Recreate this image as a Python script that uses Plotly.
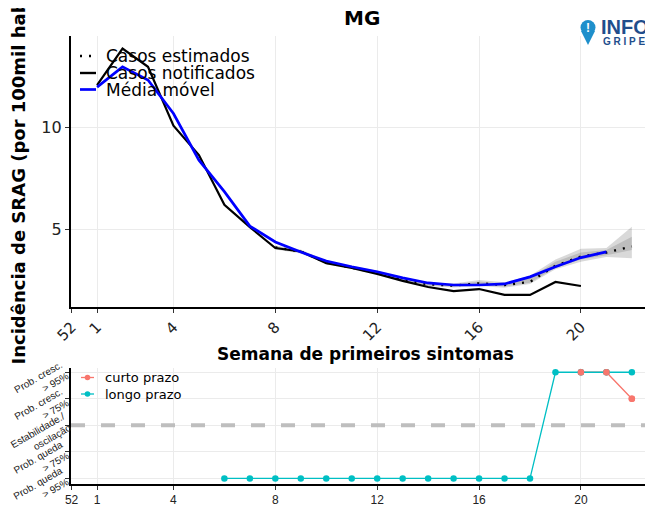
import plotly.graph_objects as go

# The page body has an 8px margin, so the figure is 8px smaller on each side
OFF = 8
W, H = 653 - OFF, 508 - OFF

# ---------------- data ----------------
tick_vals = [0, 1, 4, 8, 12, 16, 20]
tick_text = ["52", "1", "4", "8", "12", "16", "20"]

weeks_notified = [1, 2, 3, 4, 5, 6, 7, 8, 9, 10, 11, 12, 13, 14, 15, 16, 17, 18, 19, 20]
notified = [12.1, 13.9, 13.0, 10.1, 8.65, 6.2, 5.1, 4.07, 3.9, 3.33, 3.09, 2.8, 2.45, 2.15,
            1.95, 2.05, 1.76, 1.76, 2.4, 2.2]

weeks_mm = [1, 2, 3, 4, 5, 6, 7, 8, 9, 10, 11, 12, 13, 14, 15, 16, 17, 18, 19, 20, 21]
moving_avg = [12.0, 13.0, 12.35, 10.7, 8.4, 6.85, 5.15, 4.37, 3.87, 3.43, 3.15, 2.9, 2.6, 2.35,
              2.25, 2.25, 2.3, 2.65, 3.15, 3.6, 3.88]

weeks_est = [8, 9, 10, 11, 12, 13, 14, 15, 16, 17, 18, 19, 20, 21, 22]
estimated = [4.1, 3.9, 3.35, 3.1, 2.85, 2.5, 2.28, 2.22, 2.33, 2.25, 2.4, 3.2, 3.65, 3.85, 4.15]
ci95_lo = [4.0, 3.8, 3.3, 3.05, 2.8, 2.45, 2.2, 2.13, 2.2, 2.12, 2.3, 3.02, 3.4, 3.63, 3.57]
ci95_hi = [4.2, 4.0, 3.45, 3.2, 2.95, 2.6, 2.35, 2.32, 2.5, 2.38, 2.7, 3.5, 4.03, 4.07, 5.12]
ci50_lo = [4.05, 3.85, 3.32, 3.07, 2.82, 2.47, 2.23, 2.17, 2.27, 2.18, 2.36, 3.1, 3.5, 3.72, 3.98]
ci50_hi = [4.15, 3.95, 3.4, 3.15, 2.9, 2.55, 2.31, 2.27, 2.42, 2.3, 2.6, 3.4, 3.85, 3.97, 4.63]

weeks_longo = [6, 7, 8, 9, 10, 11, 12, 13, 14, 15, 16, 17, 18, 19, 20, 21, 22]
longo = [-2, -2, -2, -2, -2, -2, -2, -2, -2, -2, -2, -2, -2, 2, 2, 2, 2]
weeks_curto = [20, 21, 22]
curto = [2, 2, 1]

trend_vals = [-2, -1, 0, 1, 2]
trend_text = ["Prob. queda<br>> 95%", "Prob. queda<br>> 75%", "Estabilidade./<br>oscilação",
              "Prob. cresc.<br>> 75%", "Prob. cresc.<br>> 95%"]

# ---------------- helpers (screen px -> paper) ----------------
def X(px):
    return (px - OFF) / W

def Y(py):
    return 1 - (py - OFF) / H

FONT = "DejaVu Sans"
ARIAL = "Liberation Sans"
BLUE = "#0000FF"
C_CURTO = "#F8766D"
C_LONGO = "#00BFC4"

fig = go.Figure()

# CI bands
fig.add_trace(go.Scatter(x=weeks_est, y=ci95_hi, mode="lines", line=dict(width=0),
                         hoverinfo="skip", showlegend=False, xaxis="x", yaxis="y"))
fig.add_trace(go.Scatter(x=weeks_est, y=ci95_lo, mode="lines", line=dict(width=0),
                         fill="tonexty", fillcolor="rgba(0,0,0,0.15)",
                         hoverinfo="skip", showlegend=False, xaxis="x", yaxis="y"))
fig.add_trace(go.Scatter(x=weeks_est, y=ci50_hi, mode="lines", line=dict(width=0),
                         hoverinfo="skip", showlegend=False, xaxis="x", yaxis="y"))
fig.add_trace(go.Scatter(x=weeks_est, y=ci50_lo, mode="lines", line=dict(width=0),
                         fill="tonexty", fillcolor="rgba(0,0,0,0.13)",
                         hoverinfo="skip", showlegend=False, xaxis="x", yaxis="y"))
# estimated dotted
fig.add_trace(go.Scatter(x=weeks_est, y=estimated, mode="lines",
                         line=dict(color="black", width=2.4, dash="2px,7px"),
                         name="Casos estimados", showlegend=False, xaxis="x", yaxis="y"))
# notified
fig.add_trace(go.Scatter(x=weeks_notified, y=notified, mode="lines",
                         line=dict(color="black", width=2.2),
                         name="Casos notificados", showlegend=False, xaxis="x", yaxis="y"))
# moving average
fig.add_trace(go.Scatter(x=weeks_mm, y=moving_avg, mode="lines",
                         line=dict(color=BLUE, width=2.7),
                         name="Média móvel", showlegend=False, xaxis="x", yaxis="y"))

# bottom panel
fig.add_trace(go.Scatter(x=weeks_curto, y=curto, mode="lines+markers",
                         line=dict(color=C_CURTO, width=1.3), marker=dict(size=6.5, color=C_CURTO),
                         name="curto prazo", showlegend=False, xaxis="x2", yaxis="y2"))
fig.add_trace(go.Scatter(x=weeks_longo, y=longo, mode="lines+markers",
                         line=dict(color=C_LONGO, width=1.3), marker=dict(size=6.5, color=C_LONGO),
                         name="longo prazo", showlegend=False, xaxis="x2", yaxis="y2"))
fig.add_trace(go.Scatter(x=weeks_curto, y=curto, mode="markers",
                         marker=dict(size=6.5, color=C_CURTO),
                         showlegend=False, hoverinfo="skip", xaxis="x2", yaxis="y2"))

xrange = [-0.035, 22.83]
common_x = dict(range=xrange, tickmode="array", tickvals=tick_vals, ticktext=tick_text,
                showline=True, linecolor="black", linewidth=1.6, ticks="outside",
                ticklen=4, tickwidth=1.2, tickcolor="#333", showgrid=True, automargin=False,
                gridcolor="#EBEBEB", gridwidth=1.2, zeroline=False, domain=[X(70.7), 1.0])

fig.update_layout(
    width=W, height=H, autosize=False,
    margin=dict(l=0, r=0, t=0, b=0, autoexpand=False),
    paper_bgcolor="white", plot_bgcolor="white",
    showlegend=False,
    xaxis=dict(common_x, anchor="y", tickangle=-45,
               tickfont=dict(family=FONT, size=15, color="#222")),
    yaxis=dict(range=[1.18, 14.52], domain=[Y(306.7), Y(36)], anchor="x",
               tickmode="array", tickvals=[5, 10], ticktext=["5", "10"], automargin=False,
               showline=True, linecolor="black", linewidth=1.6, ticks="outside",
               ticklen=4, tickwidth=1.2, tickcolor="#333", showgrid=True,
               gridcolor="#EBEBEB", gridwidth=1.2, zeroline=False,
               tickfont=dict(family=FONT, size=16, color="#222")),
    xaxis2=dict(common_x, anchor="y2", tickangle=0,
                tickfont=dict(family=ARIAL, size=12, color="#222")),
    yaxis2=dict(range=[-2.21, 2.16], domain=[Y(484), Y(368)], anchor="x2",
                tickmode="array", tickvals=trend_vals, showticklabels=False,
                automargin=False,
                showline=True, linecolor="black", linewidth=1.6, ticks="outside",
                ticklen=4, tickwidth=1.2, tickcolor="#333", showgrid=True,
                gridcolor="#EBEBEB", gridwidth=1.2, zeroline=False),
)

shapes = []
annotations = []

# rotated two-line tick labels of the trend panel (tied to the y2 axis values)
for v, txt in zip(trend_vals, trend_text):
    annotations.append(dict(text=txt, xref="paper", yref="y2", x=X(41), y=v, yshift=-11,
                            xanchor="center", yanchor="middle", textangle=-30, align="right",
                            showarrow=False,
                            font=dict(family=ARIAL, size=10, color="#222")))

# dashed stability line
shapes.append(dict(type="line", xref="paper", yref="y2", x0=X(71), x1=1.0, y0=0, y1=0,
                   line=dict(color="#BEBEBE", width=4, dash="14px,16px"), layer="above"))

# top legend (manual)
leg = [("Casos estimados", 56, dict(color="black", width=2.4, dash="2px,7px")),
       ("Casos notificados", 73, dict(color="black", width=2.4)),
       ("Média móvel", 89.5, dict(color=BLUE, width=2.7))]
for txt, py, ln in leg:
    shapes.append(dict(type="line", xref="paper", yref="paper", x0=X(80), x1=X(96),
                       y0=Y(py), y1=Y(py), line=ln))
    annotations.append(dict(text=txt, xref="paper", yref="paper", x=X(104), y=Y(py),
                            xanchor="left", yanchor="middle", showarrow=False,
                            font=dict(family=FONT, size=17, color="black")))

# bottom legend (manual)
for txt, py, col in [("curto prazo", 377.5, C_CURTO), ("longo prazo", 394, C_LONGO)]:
    shapes.append(dict(type="line", xref="paper", yref="paper", x0=X(81), x1=X(94),
                       y0=Y(py), y1=Y(py), line=dict(color=col, width=1.3)))
    shapes.append(dict(type="circle", xref="paper", yref="paper", x0=X(84.7), x1=X(90.3),
                       y0=Y(py + 2.8), y1=Y(py - 2.8), line=dict(width=0), fillcolor=col))
    annotations.append(dict(text=txt, xref="paper", yref="paper", x=X(103), y=Y(py),
                            xanchor="left", yanchor="middle", showarrow=False,
                            font=dict(family=FONT, size=13, color="black")))

# titles
annotations.append(dict(text="<b>MG</b>", xref="paper", yref="paper", x=X(362), y=Y(18),
                        xanchor="center", yanchor="middle", showarrow=False,
                        font=dict(family=FONT, size=20, color="black")))
annotations.append(dict(text="<b>Semana de primeiros sintomas</b>", xref="paper", yref="paper",
                        x=X(365), y=Y(354), xanchor="center", yanchor="middle", showarrow=False,
                        font=dict(family=FONT, size=17, color="black")))
annotations.append(dict(text="<b>Incidência de SRAG (por 100mil hab.)</b>", xref="paper",
                        yref="paper", x=X(18), y=Y(367), xanchor="center", yanchor="bottom",
                        textangle=-90, showarrow=False,
                        font=dict(family=FONT, size=18, color="black")))

# logo
shapes.append(dict(type="circle", xref="paper", yref="paper", x0=X(580.5), x1=X(595.5),
                   y0=Y(35), y1=Y(20), line=dict(width=0), fillcolor="#1E8FCB"))
shapes.append(dict(type="path", xref="paper", yref="paper",
                   path=f"M {X(581)},{Y(31)} L {X(588)},{Y(45)} L {X(595)},{Y(31)} Z",
                   line=dict(width=0), fillcolor="#1E8FCB"))
annotations.append(dict(text="<b>!</b>", xref="paper", yref="paper", x=X(588), y=Y(27.5),
                        xanchor="center", yanchor="middle", showarrow=False,
                        font=dict(family=ARIAL, size=12, color="white")))
annotations.append(dict(text="<b>INFO</b>", xref="paper", yref="paper", x=X(599), y=Y(27),
                        xanchor="left", yanchor="middle", showarrow=False,
                        font=dict(family=ARIAL, size=20, color="#1F4E8C")))
annotations.append(dict(text="<b>G R I P E</b>", xref="paper", yref="paper", x=X(601), y=Y(41.5),
                        xanchor="left", yanchor="middle", showarrow=False,
                        font=dict(family=ARIAL, size=10, color="#1F4E8C")))

fig.update_layout(shapes=shapes, annotations=annotations)
fig.write_html("out.html")
